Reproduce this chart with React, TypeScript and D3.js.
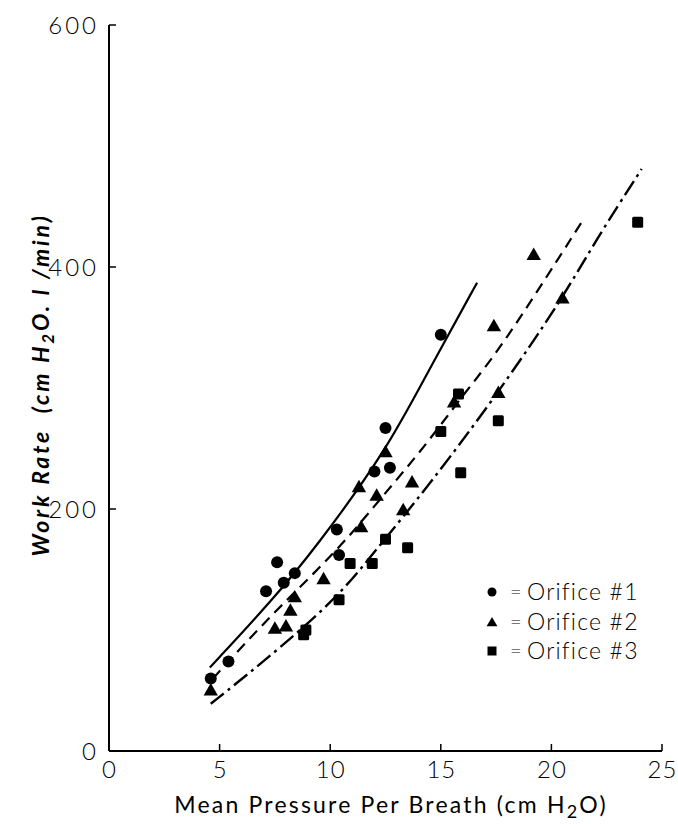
import React from "react";
import * as d3 from "d3";

// ---- data ----
const xTicks = [0, 5, 10, 15, 20, 25];
const yTicks = [0, 200, 400, 600];

// Orifice #1 (circles)
const o1X = [4.6, 5.4, 7.1, 7.6, 7.9, 8.4, 10.3, 10.4, 12.0, 12.5, 12.7, 15.0];
const o1Y = [60, 74, 132, 156, 139, 147, 183, 162, 231, 267, 234, 344];

// Orifice #2 (triangles)
const o2X = [4.6, 7.5, 8.0, 8.2, 8.4, 9.7, 11.3, 11.4, 12.1, 12.5, 13.3, 13.7, 15.6, 17.4, 17.6, 19.2, 20.5];
const o2Y = [50, 101, 103, 116, 127, 142, 218, 185, 211, 247, 199, 222, 288, 351, 296, 410, 374];

// Orifice #3 (squares)
const o3X = [8.8, 8.9, 10.4, 10.9, 11.9, 12.5, 13.5, 15.0, 15.8, 15.9, 17.6, 23.9];
const o3Y = [96, 100, 125, 155, 155, 175, 168, 264, 295, 230, 273, 437];

// fitted curves (traced)
const fit1X = [4.56, 7.4, 9.3, 12.5, 14.4, 16.64];
const fit1Y = [69, 125, 167, 247, 313, 387];
const fit2X = [4.7, 6.0, 7.7, 10.4, 12.2, 14.3, 16.15, 17.66, 21.4];
const fit2Y = [60, 86, 119, 167, 207, 252, 298, 331, 438];
const fit3X = [4.6, 6.8, 10.27, 12.1, 14.4, 17.6, 20.5, 22.0, 24.08];
const fit3Y = [39, 71, 125, 167, 218, 296, 374, 422, 481];

const legendLabels = ["Orifice #1", "Orifice #2", "Orifice #3"];

const W = 678;
const H = 824;

export default function App() {
  const x = d3.scaleLinear().domain([0, 25]).range([109, 662]);
  const y = d3.scaleLinear().domain([0, 600]).range([751, 25]);

  const line = d3
    .line<[number, number]>()
    .x((d) => x(d[0]))
    .y((d) => y(d[1]))
    .curve(d3.curveBasis);

  const zip = (a: number[], b: number[]) => a.map((v, i) => [v, b[i]] as [number, number]);

  const tri = (cx: number, cy: number, s: number) =>
    `M${cx},${cy - s * 0.62}L${cx + s * 0.6},${cy + s * 0.42}L${cx - s * 0.6},${cy + s * 0.42}Z`;

  const font = "Lato, 'DejaVu Sans', sans-serif";
  const ink = "#000";

  return (
    <svg width={W} height={H} style={{ display: "block", position: "absolute", left: 0, top: 0, background: "#fff" }}>
      <rect width={W} height={H} fill="#fff" />
      {/* axes */}
      <line x1={x(0)} x2={x(0)} y1={y(0)} y2={y(600)} stroke={ink} strokeWidth={2} />
      <line x1={x(0)} x2={x(25)} y1={y(0)} y2={y(0)} stroke={ink} strokeWidth={2} />
      {yTicks.map((t) => (
        <g key={"y" + t}>
          <line x1={x(0)} x2={x(0) + 7} y1={y(t)} y2={y(t)} stroke={ink} strokeWidth={1.5} />
          <text x={99} y={y(t)} dy="0.36em" textAnchor="end" fontFamily={font} fontWeight={300} fontSize={24} letterSpacing={3} fill={ink}>
            {t}
          </text>
        </g>
      ))}
      {xTicks.map((t) => (
        <g key={"x" + t}>
          <line x1={x(t)} x2={x(t)} y1={y(0)} y2={y(0) - 7} stroke={ink} strokeWidth={1.5} />
          <text x={x(t) + 0.5} y={778} textAnchor="middle" fontFamily={font} fontWeight={300} fontSize={24} letterSpacing={1} fill={ink}>
            {t}
          </text>
        </g>
      ))}
      {/* axis titles */}
      <text x={391} y={813} textAnchor="middle" fontFamily={font} fontWeight={400} fontSize={23} letterSpacing={2.2} fill={ink}>
        Mean Pressure Per Breath (cm H<tspan dy="5" fontSize={18}>2</tspan>
        <tspan dy="-5">O)</tspan>
      </text>
      <text
        transform={`translate(49,385) rotate(-90)`}
        textAnchor="middle"
        fontFamily={font}
        fontWeight={700}
        fontStyle="italic"
        fontSize={23}
        letterSpacing={2.8}
        fill={ink}
      >
        Work Rate{"\u00a0\u00a0"}(cm H<tspan dy="5" fontSize={17}>2</tspan>
        <tspan dy="-5">O. l /min)</tspan>
      </text>

      {/* curves */}
      <path d={line(zip(fit1X, fit1Y)) || ""} fill="none" stroke={ink} strokeWidth={2.2} />
      <path d={line(zip(fit2X, fit2Y)) || ""} fill="none" stroke={ink} strokeWidth={2.2} strokeDasharray="11,7" />
      <path d={line(zip(fit3X, fit3Y)) || ""} fill="none" stroke={ink} strokeWidth={2.4} strokeDasharray="17,5,3,5" />

      {/* points */}
      {o1X.map((v, i) => (
        <circle key={"c" + i} cx={x(v)} cy={y(o1Y[i])} r={6} fill={ink} />
      ))}
      {o2X.map((v, i) => (
        <path key={"t" + i} d={tri(x(v), y(o2Y[i]), 12)} fill={ink} />
      ))}
      {o3X.map((v, i) => (
        <rect key={"s" + i} x={x(v) - 5.5} y={y(o3Y[i]) - 5.5} width={11} height={11} rx={1.5} fill={ink} />
      ))}

      {/* legend */}
      {legendLabels.map((lab, i) => {
        const ly = 592 + i * 29.5;
        return (
          <g key={lab}>
            {i === 0 && <circle cx={492} cy={ly} r={4.5} fill={ink} />}
            {i === 1 && <path d={tri(492, ly + 1, 9)} fill={ink} />}
            {i === 2 && <rect x={487.5} y={ly - 4.5} width={9} height={9} fill={ink} />}
            <text x={510} y={ly + 7} fontFamily={font} fontWeight={300} fontSize={20} fill={ink}>
              =
            </text>
            <text x={527} y={ly + 8} fontFamily={font} fontWeight={300} fontSize={23} letterSpacing={1.2} fill={ink}>
              {lab}
            </text>
          </g>
        );
      })}
    </svg>
  );
}
